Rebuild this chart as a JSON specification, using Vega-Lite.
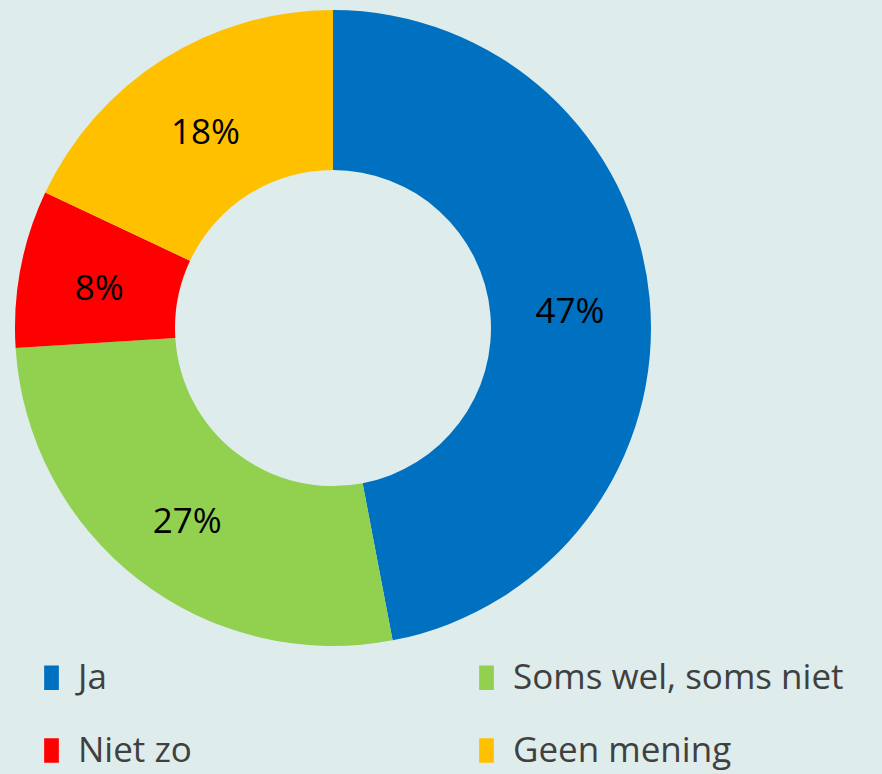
{
  "$schema": "https://vega.github.io/schema/vega-lite/v6.json",
  "width": 666,
  "height": 656,
  "autosize": {"type": "none"},
  "padding": {"left": 0, "top": 0, "right": 216, "bottom": 118},
  "background": "#deecec",
  "config": {"view": {"stroke": null}},
  "data": {
    "values": [
      {"category": "Ja", "value": 0.47, "order": 1},
      {"category": "Soms wel, soms niet", "value": 0.27, "order": 2},
      {"category": "Niet zo", "value": 0.08, "order": 3},
      {"category": "Geen mening", "value": 0.18, "order": 4}
    ]
  },
  "encoding": {
    "theta": {"field": "value", "type": "quantitative", "stack": true},
    "order": {"field": "order", "type": "quantitative"}
  },
  "layer": [
    {
      "mark": {"type": "arc", "innerRadius": 158, "outerRadius": 318},
      "encoding": {
        "color": {
          "field": "category",
          "type": "nominal",
          "sort": ["Ja", "Soms wel, soms niet", "Niet zo", "Geen mening"],
          "scale": {
            "domain": ["Ja", "Soms wel, soms niet", "Niet zo", "Geen mening"],
            "range": ["#0070c0", "#92d050", "#ff0000", "#ffc000"]
          },
          "legend": {
            "title": null,
            "orient": "none",
            "direction": "horizontal",
            "padding": 0,
            "legendX": 34,
            "legendY": 660,
            "columns": 2,
            "columnPadding": 277,
            "rowPadding": 37,
            "symbolType": "M-0.6,-1H0.6V1H-0.6Z",
            "symbolSize": 600,
            "symbolStrokeWidth": 0,
            "symbolOpacity": 1,
            "symbolOffset": 0,
            "labelFont": "Open Sans",
            "labelFontSize": 35,
            "labelColor": "#404040",
            "labelOffset": 9,
            "labelLimit": 500
          }
        }
      }
    },
    {
      "mark": {"type": "text", "radius": 238, "font": "Open Sans", "fontSize": 35, "color": "#000000", "dy": 6},
      "encoding": {
        "text": {"field": "value", "type": "quantitative", "format": ".0%"}
      }
    }
  ]
}
